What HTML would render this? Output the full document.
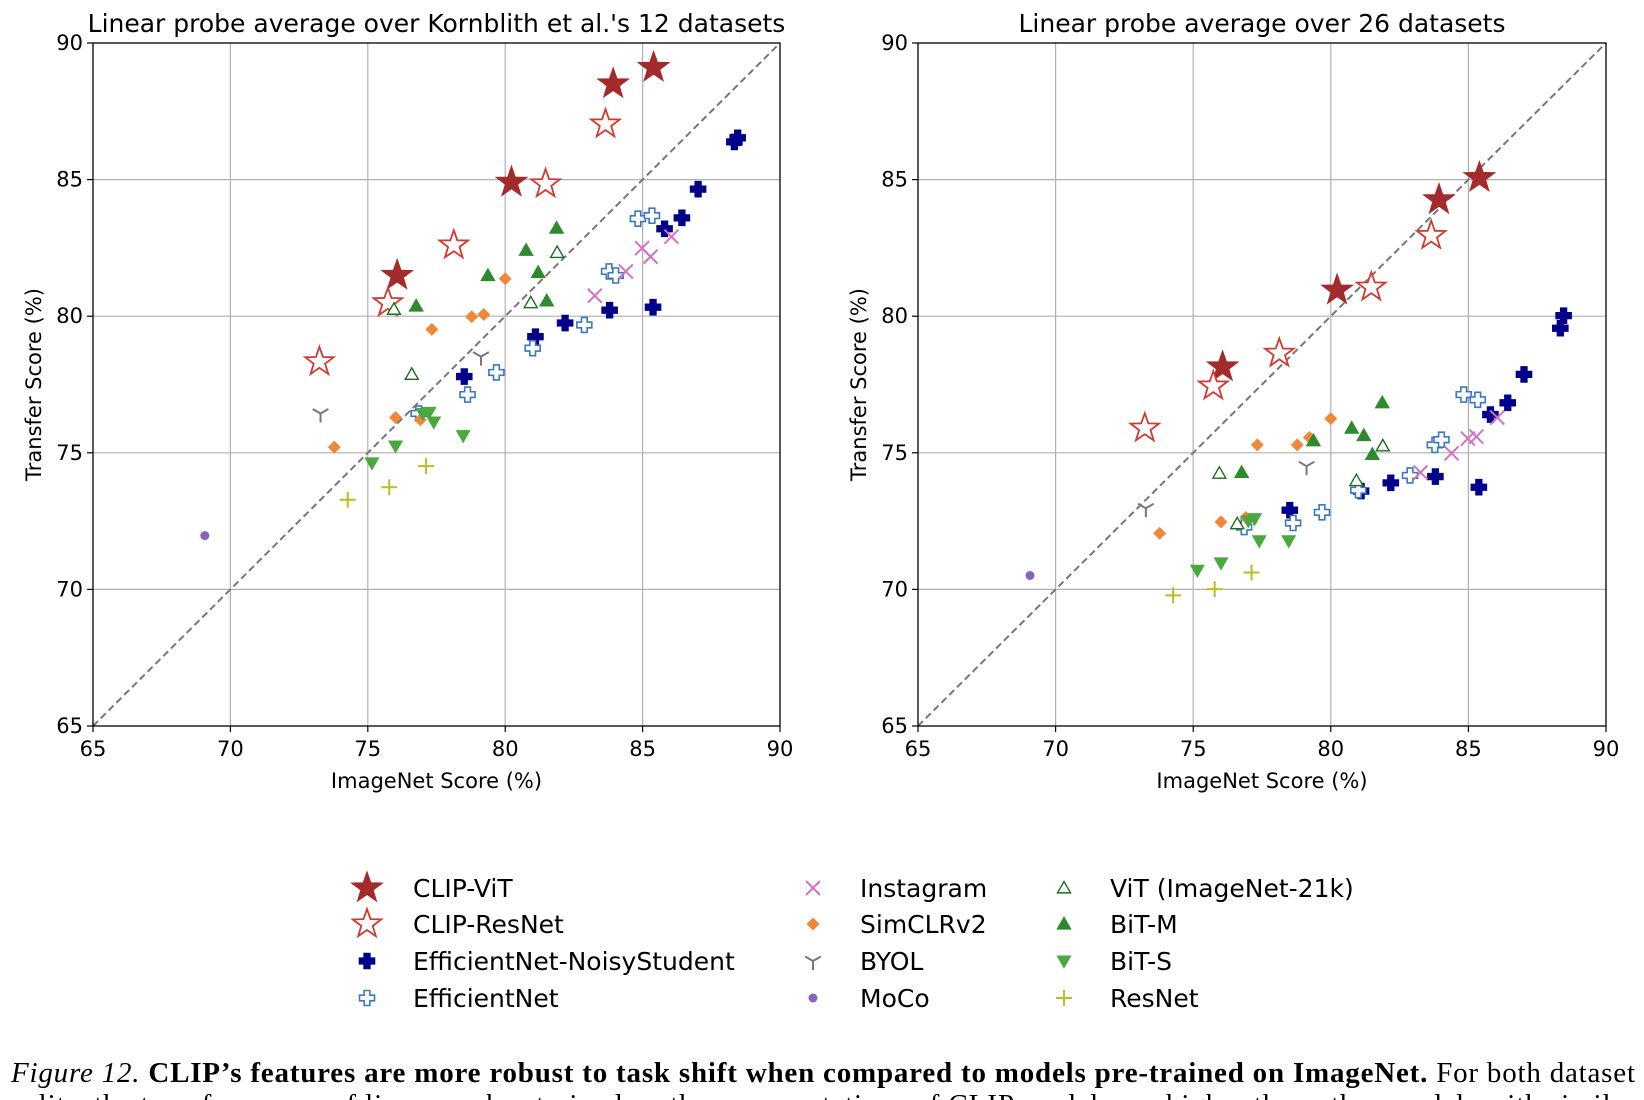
<!DOCTYPE html>
<html><head><meta charset="utf-8"><style>
body{margin:0;background:#fff;width:1644px;height:1100px;overflow:hidden}
svg{display:block;font-family:"DejaVu Sans","Liberation Sans",sans-serif}
</style></head><body>
<svg id="fig" width="1644" height="1100">
<g id="plots"></g>
<g id="legend"></g>
<text x="11" y="1082" font-family="Liberation Serif,serif" font-size="29" fill="#000" textLength="1624" lengthAdjust="spacing"><tspan font-style="italic">Figure 12.</tspan> <tspan font-weight="bold">CLIP’s features are more robust to task shift when compared to models pre-trained on ImageNet.</tspan> For both dataset</text>
<text x="11" y="1114" font-family="Liberation Serif,serif" font-size="29" fill="#000" textLength="1624" lengthAdjust="spacing">splits, the transfer scores of linear probes trained on the representations of CLIP models are higher than other models with similar</text>
</svg>
<script>
const seriesNames=["CLIP-ViT","CLIP-ResNet","EfficientNet-NoisyStudent","EfficientNet","Instagram","SimCLRv2","BYOL","MoCo","ViT (ImageNet-21k)","BiT-M","BiT-S","ResNet"];
const imagenetX={
"CLIP-ViT":[76.07,80.23,83.93,85.4],
"CLIP-ResNet":[73.24,75.73,78.13,81.47,83.65],
"EfficientNet-NoisyStudent":[78.51,81.1,82.18,83.8,85.38,85.8,86.43,87.02,88.34,88.46],
"EfficientNet":[76.85,78.63,79.68,81.0,82.88,83.78,84.02,84.83,85.34],
"Instagram":[83.26,84.39,84.98,85.29,86.05],
"SimCLRv2":[73.78,76.01,76.91,77.33,78.78,79.22,80.0],
"BYOL":[73.28,79.12],
"MoCo":[69.07],
"ViT (ImageNet-21k)":[75.95,76.6,80.93,81.89],
"BiT-M":[76.76,79.37,80.76,81.2,81.51,81.87],
"BiT-S":[75.15,76.01,77.0,77.23,77.4,78.47],
"ResNet":[74.27,75.78,77.12]};
const transferA={
"CLIP-ViT":[81.49,84.9,88.5,89.1],
"CLIP-ResNet":[78.33,80.49,82.6,84.84,87.03],
"EfficientNet-NoisyStudent":[77.79,79.25,79.75,80.22,80.33,83.2,83.6,84.65,86.38,86.53],
"EfficientNet":[76.44,77.13,77.94,78.83,79.68,81.64,81.49,83.57,83.68],
"Instagram":[80.75,81.64,82.49,82.18,82.91],
"SimCLRv2":[75.21,76.29,76.21,79.52,79.98,80.06,81.37],
"BYOL":[76.44,78.52],
"MoCo":[71.97],
"ViT (ImageNet-21k)":[80.25,77.87,80.49,82.33],
"BiT-M":[80.37,81.49,82.41,81.6,80.56,83.22],
"BiT-S":[74.63,75.25,76.44,76.48,76.13,75.63],
"ResNet":[73.28,73.74,74.51]};
const transferB={
"CLIP-ViT":[78.14,80.95,84.26,85.07],
"CLIP-ResNet":[75.9,77.44,78.64,81.06,82.95],
"EfficientNet-NoisyStudent":[72.9,73.6,73.9,74.13,73.74,76.4,76.83,77.87,79.56,80.02],
"EfficientNet":[72.28,72.43,72.82,73.63,74.17,75.29,75.48,77.13,76.94],
"Instagram":[74.28,74.98,75.52,75.59,76.29],
"SimCLRv2":[72.05,72.47,72.63,75.29,75.29,75.56,76.25],
"BYOL":[72.97,74.51],
"MoCo":[70.51],
"ViT (ImageNet-21k)":[74.25,72.4,73.98,75.25],
"BiT-M":[74.28,75.44,75.9,75.63,74.94,76.83],
"BiT-S":[70.7,70.97,72.51,72.59,71.78,71.78],
"ResNet":[69.78,70.01,70.62]};
const ticks=[65,70,75,80,85,90];
const titles=["Linear probe average over Kornblith et al.'s 12 datasets","Linear probe average over 26 datasets"];

const NS="http://www.w3.org/2000/svg";
function mk(tag,attrs,parent){const e=document.createElementNS(NS,tag);for(const k in attrs)e.setAttribute(k,attrs[k]);parent.appendChild(e);return e;}
const styles={
"CLIP-ViT":{t:"star",r:15,fill:"#a32b2b",stroke:"#a32b2b"},
"CLIP-ResNet":{t:"star",r:15,fill:"#fff",stroke:"#d03a30"},
"EfficientNet-NoisyStudent":{t:"plus",r:7.5,fill:"#00008b",stroke:"#00008b"},
"EfficientNet":{t:"plus",r:7.5,fill:"#fff",stroke:"#3a78c0"},
"Instagram":{t:"x",r:7,stroke:"#d670c0"},
"SimCLRv2":{t:"dia",r:6.5,fill:"#f0883a"},
"BYOL":{t:"y",r:9,stroke:"#777"},
"MoCo":{t:"circ",r:4.5,fill:"#8a60c0"},
"ViT (ImageNet-21k)":{t:"tri",r:6.5,fill:"#fff",stroke:"#1d6e1d"},
"BiT-M":{t:"tri",r:6.5,fill:"#2d8a2d",stroke:"#2d8a2d"},
"BiT-S":{t:"tridown",r:6.5,fill:"#4ba83e",stroke:"#4ba83e"},
"ResNet":{t:"cross",r:8,stroke:"#bcbd22"}};
function marker(g,name,cx,cy){
 const s=styles[name];const r=s.r;let e;
 if(s.t==="star"){let p=[];for(let i=0;i<10;i++){const a=-Math.PI/2+i*Math.PI/5;const rr=i%2?r*0.4:r;p.push((cx+rr*Math.cos(a)).toFixed(1)+","+(cy+rr*Math.sin(a)).toFixed(1));}
  e=mk("polygon",{points:p.join(" "),fill:s.fill,stroke:s.stroke,"stroke-width":1.8},g);}
 else if(s.t==="plus"){const w=r*0.38;const pts=[[-w,-r],[w,-r],[w,-w],[r,-w],[r,w],[w,w],[w,r],[-w,r],[-w,w],[-r,w],[-r,-w],[-w,-w]].map(q=>(cx+q[0])+","+(cy+q[1])).join(" ");
  e=mk("polygon",{points:pts,fill:s.fill,stroke:s.stroke,"stroke-width":1.6},g);}
 else if(s.t==="x"){e=mk("path",{d:`M${cx-r},${cy-r}L${cx+r},${cy+r}M${cx-r},${cy+r}L${cx+r},${cy-r}`,stroke:s.stroke,"stroke-width":2,fill:"none"},g);}
 else if(s.t==="cross"){e=mk("path",{d:`M${cx-r},${cy}L${cx+r},${cy}M${cx},${cy-r}L${cx},${cy+r}`,stroke:s.stroke,"stroke-width":2,fill:"none"},g);}
 else if(s.t==="dia"){e=mk("polygon",{points:`${cx},${cy-r} ${cx+r},${cy} ${cx},${cy+r} ${cx-r},${cy}`,fill:s.fill},g);}
 else if(s.t==="y"){e=mk("path",{d:`M${cx},${cy}L${cx},${cy+r}M${cx},${cy}L${cx-r*0.87},${cy-r*0.5}M${cx},${cy}L${cx+r*0.87},${cy-r*0.5}`,stroke:s.stroke,"stroke-width":2,fill:"none"},g);}
 else if(s.t==="circ"){e=mk("circle",{cx:cx,cy:cy,r:r,fill:s.fill},g);}
 else if(s.t==="tri"){e=mk("polygon",{points:`${cx},${cy-r} ${cx+r},${cy+r*0.75} ${cx-r},${cy+r*0.75}`,fill:s.fill,stroke:s.stroke,"stroke-width":1.4},g);}
 else if(s.t==="tridown"){e=mk("polygon",{points:`${cx},${cy+r} ${cx+r},${cy-r*0.75} ${cx-r},${cy-r*0.75}`,fill:s.fill,stroke:s.stroke,"stroke-width":1.2},g);}
 return e;
}
const plots=document.getElementById('plots');
const panels=[{x0:93,x1:780,data:transferA},{x0:918,x1:1606,data:transferB}];
const y0=726,y1=43;
panels.forEach((p,pi)=>{
 const g=mk("g",{},plots);
 
 
 const X=v=>p.x0+(v-65)/25*(p.x1-p.x0);
 const Y=v=>y0-(v-65)/25*(y0-y1);
 ticks.forEach(t=>{
  if(t>65&&t<90){
   mk("line",{x1:X(t),x2:X(t),y1:y1,y2:y0,stroke:"#b0b0b0","stroke-width":1.2},g);
   mk("line",{x1:p.x0,x2:p.x1,y1:Y(t),y2:Y(t),stroke:"#b0b0b0","stroke-width":1.2},g);
  }
  mk("line",{x1:X(t),x2:X(t),y1:y0,y2:y0+6,stroke:"#000","stroke-width":1.2},g);
  mk("line",{x1:p.x0-6,x2:p.x0,y1:Y(t),y2:Y(t),stroke:"#000","stroke-width":1.2},g);
  const tx=mk("text",{x:X(t),y:y0+30,"text-anchor":"middle","font-size":21},g);tx.textContent=t;
  
  
  const ty=mk("text",{x:p.x0-10,y:Y(t)+7,"text-anchor":"end","font-size":21},g);ty.textContent=t;
  
  
 });
 const diag=mk("line",{x1:X(65),y1:Y(65),x2:X(90),y2:Y(90),stroke:"#777","stroke-width":2,"stroke-dasharray":"7,4"},g);
 
 
 seriesNames.forEach(n=>{
  const sg=mk("g",{},g);
  
  
  imagenetX[n].forEach((xv,i)=>{const m=marker(sg,n,X(xv),Y(p.data[n][i]));
   
   });
 });
 mk("rect",{x:p.x0,y:y1,width:p.x1-p.x0,height:y0-y1,fill:"none",stroke:"#000","stroke-width":1.3},g);
 const tt=mk("text",{x:(p.x0+p.x1)/2,y:32,"text-anchor":"middle","font-size":25},g);tt.textContent=titles[pi];
 
 
 const xl=mk("text",{x:(p.x0+p.x1)/2,y:y0+62,"text-anchor":"middle","font-size":21},g);xl.textContent="ImageNet Score (%)";
 
 
 const yl=mk("text",{x:0,y:0,"text-anchor":"middle","font-size":21,transform:`translate(${p.x0-52},${(y0+y1)/2}) rotate(-90)`},g);yl.textContent="Transfer Score (%)";
 
 
});
const lg=document.getElementById('legend');
const cols=[{mx:367,tx:413},{mx:813,tx:860},{mx:1064,tx:1110}];
const rowsY=[888,924,961,998];
seriesNames.forEach((n,i)=>{
 const c=i<4?0:(i<8?1:2);const r=i%4;
 const eg=mk("g",{},lg);
 
 
 marker(eg,n,cols[c].mx,rowsY[r]);
 const t=mk("text",{x:cols[c].tx,y:rowsY[r]+9,"font-size":25},eg);t.textContent=n;
});
</script>
</body></html>
